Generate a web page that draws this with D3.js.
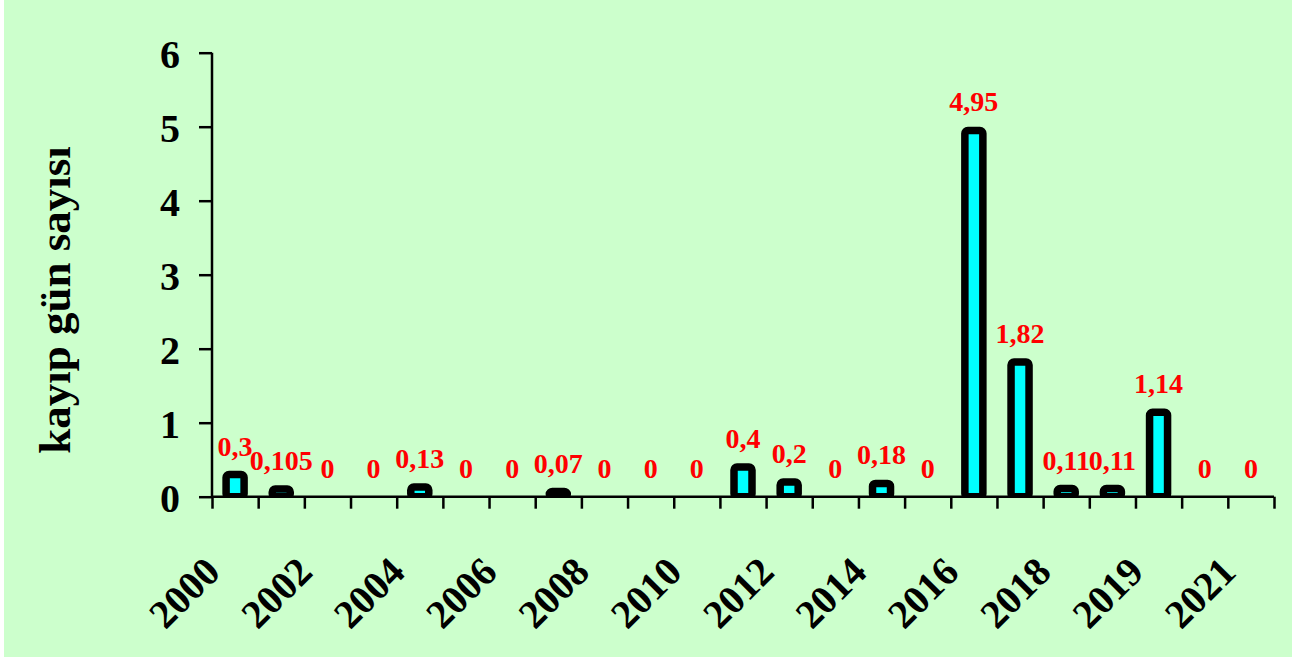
<!DOCTYPE html>
<html><head><meta charset="utf-8">
<script src="https://cdn.jsdelivr.net/npm/d3@7/dist/d3.min.js"></script>
<style>
html,body{margin:0;padding:0;background:#fff;}
svg{display:block;font-family:"Liberation Serif","Times New Roman",serif;font-weight:bold;}
</style></head>
<body>
<svg id="chart" width="1300" height="658"></svg>
<script>
const categories = ["2000","2001","2002","2003","2004","2005","2006","2007","2008","2009","2010","2011","2012","2013","2014","2015","2016","2017","2018","2018","2019","2020","2021"];
const values = [0.3,0.105,0,0,0.13,0,0,0.07,0,0,0,0.4,0.2,0,0.18,0,4.95,1.82,0.11,0.11,1.14,0,0];
const valueLabels = ["0,3","0,105","0","0","0,13","0","0","0,07","0","0","0","0,4","0,2","0","0,18","0","4,95","1,82","0,11","0,11","1,14","0","0"];
const yTicks = [0,1,2,3,4,5,6];
const yTitle = "kayıp gün sayısı";

const svg = d3.select("#chart");
svg.append("rect").attr("x",4).attr("y",0).attr("width",1288).attr("height",657).attr("fill","#CCFFCC");

const x0 = 212, x1 = 1274, yBase = 496.7, yTop = 52.7;
const x = d3.scaleBand().domain(d3.range(categories.length)).range([x0,x1]).padding(0);
const xl = d3.scaleLinear().domain([0,categories.length]).range([x0,x1]);
const y = d3.scaleLinear().domain([0,6]).range([yBase,yTop]);

svg.append("defs").append("clipPath").attr("id","plotclip")
  .append("rect").attr("x",x0).attr("y",0).attr("width",x1-x0).attr("height",yBase+1);

// bars
const bw = 18;
svg.append("g").attr("clip-path","url(#plotclip)").selectAll("rect").data(values).join("rect")
  .attr("x",(d,i)=>x(i)+x.bandwidth()/2-bw/2)
  .attr("y",d=>y(d))
  .attr("width",bw)
  .attr("height",d=>Math.max(0,yBase-y(d)))
  .attr("rx",3)
  .attr("fill",d=>d>0?"#00FFFF":"none")
  .attr("stroke",d=>d>0?"#000":"none")
  .attr("stroke-width",7.5);

// value labels
svg.append("g").selectAll("text").data(values).join("text")
  .attr("x",(d,i)=>x(i)+x.bandwidth()/2)
  .attr("y",d=>y(d)-19)
  .attr("text-anchor","middle")
  .attr("fill","#FF0000")
  .attr("font-size",28)
  .text((d,i)=>valueLabels[i]);

// y axis
const gy = svg.append("g").attr("transform",`translate(${x0},0)`)
  .call(d3.axisLeft(y).tickValues(yTicks).tickSize(13).tickPadding(19).tickFormat(d3.format("d")));
gy.select(".domain").attr("stroke","#000").attr("stroke-width",2.5).attr("d",`M0,${yTop}V${yBase}`);
gy.selectAll(".tick line").attr("stroke","#000").attr("stroke-width",2.5);
gy.selectAll(".tick text").attr("font-size",40).attr("font-family","Liberation Serif").attr("font-weight","bold").attr("fill","#000").attr("dy","0.36em");

// x axis ticks at category boundaries
const gx = svg.append("g").attr("transform",`translate(0,${yBase})`)
  .call(d3.axisBottom(xl).tickValues(d3.range(categories.length+1)).tickSize(12).tickFormat(""));
gx.select(".domain").attr("stroke","#000").attr("stroke-width",2.5).attr("d",`M${x0},0H${x1}`);
gx.selectAll(".tick line").attr("stroke","#000").attr("stroke-width",2.5);

// x labels (every other category)
svg.append("g").selectAll("text").data(categories.map((c,i)=>({c,i})).filter(d=>d.i%2===0)).join("text")
  .attr("transform",d=>`translate(${x(d.i)+x.bandwidth()/2-13},574) rotate(-45)`)
  .attr("text-anchor","end")
  .attr("font-size",40)
  .attr("fill","#000")
  .text(d=>d.c);

// y title
svg.append("text")
  .attr("transform","translate(70,300) rotate(-90)")
  .attr("text-anchor","middle")
  .attr("font-size",45)
  .attr("fill","#000")
  .text(yTitle);
</script>
</body></html>
